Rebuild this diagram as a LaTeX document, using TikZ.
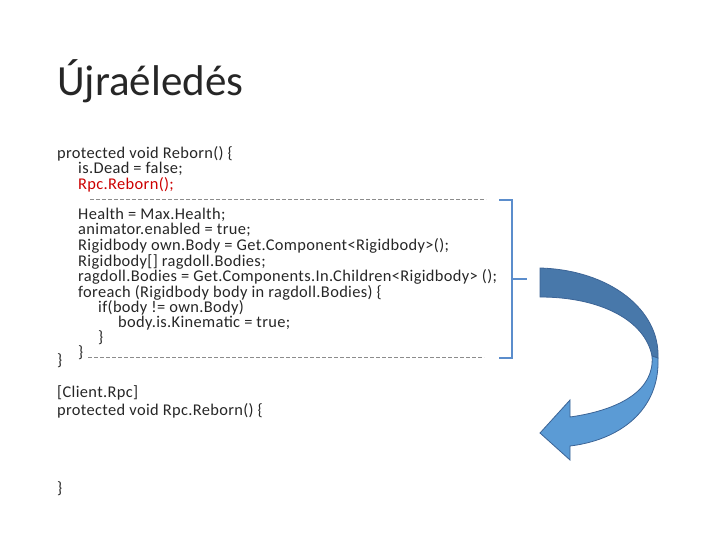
\documentclass[tikz,border=0pt]{standalone}
\usepackage{fontspec}
\setmainfont{Carlito}
\newfontfamily\codefont[LetterSpace=2.2]{Carlito}
\begin{document}
\begin{tikzpicture}[x=1pt,y=-1pt,
  tx/.style={anchor=base west,inner sep=0pt,font=\codefont\fontsize{16.4}{18}\selectfont,text=black!85},
  dl/.style={draw=black!45,dashed,dash pattern=on 4pt off 2pt},
  br/.style={line width=2.5pt,color={rgb,255:red,91;green,141;blue,204}}]
\useasboundingbox (0,0) rectangle (720,540);
\node[anchor=base west,inner sep=0pt,font=\fontsize{43}{45}\selectfont,text=black!85] (title) at (57,96) {Újraéledés};
\node[tx] (l1) at (57,159) {protected void Reborn() \{};
\node[tx] (l2) at (78,174) {is.Dead = false;};
\node[tx,text=red!80!black] (l3) at (78,190) {Rpc.Reborn();};
\node[tx] (l4) at (78,219) {Health = Max.Health;};
\node[tx] (l5) at (78,235) {animator.enabled = true;};
\node[tx] (l6) at (78,250) {Rigidbody own.Body = Get.Component<Rigidbody>();};
\node[tx] (l7) at (78,266) {Rigidbody[] ragdoll.Bodies;};
\node[tx] (l8) at (78,281) {ragdoll.Bodies = Get.Components.In.Children<Rigidbody> ();};
\node[tx] (l9) at (78,297) {foreach (Rigidbody body in ragdoll.Bodies) \{};
\node[tx] (l10) at (98,312) {if(body != own.Body)};
\node[tx] (l11) at (118,327) {body.is.Kinematic = true;};
\node[tx] (l12) at (98,342) {\}};
\node[tx] (l13) at (78,357) {\}};
\node[tx] (l14) at (57,365) {\}};
\node[tx] (l15) at (57,397) {[Client.Rpc]};
\node[tx] (l16) at (57,415) {protected void Rpc.Reborn() \{};
\node[tx] (l17) at (57,493) {\}};
\coordinate (d1a) at (90,199); \coordinate (d1b) at (486,199);
\coordinate (d2a) at (88,357); \coordinate (d2b) at (484,357);
\draw[dl] (d1a) -- (d1b);
\draw[dl] (d2a) -- (d2b);
\coordinate (b1) at (499,200); \coordinate (b2) at (512,200);
\coordinate (b3) at (512,358); \coordinate (b4) at (499,358);
\coordinate (bm) at (512,279); \coordinate (bt) at (527,279);
\draw[br] (b1) -- (b2) -- (b3) -- (b4);
\draw[br] (bm) -- (bt);
\fill[fill={rgb,255:red,72;green,120;blue,170},draw={rgb,255:red,60;green,100;blue,150},line width=0.8pt]
  (540,268) .. controls (610,270) and (660,310) .. (658,358)
  -- (652,356) .. controls (645,320) and (600,297) .. (540,297) -- cycle;
\fill[fill={rgb,255:red,91;green,155;blue,213},draw={rgb,255:red,60;green,100;blue,150},line width=0.8pt]
  (658,358) .. controls (660,410) and (620,440) .. (570,446)
  -- (570,460) -- (540,433) -- (570,400) -- (570,417)
  .. controls (620,410) and (655,390) .. (652,356) -- cycle;
\end{tikzpicture}
\end{document}
